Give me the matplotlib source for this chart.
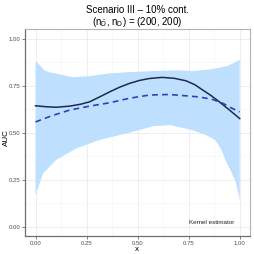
import matplotlib
matplotlib.use("Agg")
import matplotlib.pyplot as plt
import numpy as np

plt.rcParams["font.family"] = ["Liberation Sans", "DejaVu Sans"]
plt.rcParams["mathtext.fontset"] = "custom"
plt.rcParams["mathtext.rm"] = "Liberation Sans"
plt.rcParams["mathtext.it"] = "Liberation Sans:italic"

# values
band_up_x = [0.0, 0.02, 0.045, 0.08, 0.12, 0.18, 0.26, 0.36, 0.46, 0.56, 0.70, 0.77, 0.85, 0.90, 0.94, 0.97, 1.0]
band_up_y = [0.88, 0.86, 0.83, 0.818, 0.81, 0.795, 0.80, 0.815, 0.822, 0.827, 0.832, 0.827, 0.836, 0.845, 0.855, 0.87, 0.889]

band_lo_x = [0.0, 0.037, 0.1, 0.2, 0.31, 0.46, 0.58, 0.66, 0.77, 0.84, 0.88, 0.91, 0.93, 0.955, 0.98, 1.0]
band_lo_y = [0.167, 0.283, 0.354, 0.416, 0.46, 0.50, 0.535, 0.54, 0.513, 0.485, 0.46, 0.41, 0.354, 0.30, 0.24, 0.14]

kernel_x = [0.0, 0.05, 0.1, 0.167, 0.22, 0.265, 0.31, 0.363, 0.41, 0.46, 0.51, 0.557, 0.62, 0.68, 0.737, 0.78, 0.82, 0.86, 0.9, 0.95, 1.0]
kernel_y = [0.643, 0.638, 0.635, 0.641, 0.651, 0.664, 0.688, 0.717, 0.741, 0.762, 0.778, 0.788, 0.794, 0.789, 0.776, 0.755, 0.726, 0.697, 0.664, 0.62, 0.575]

true_x = [0.0, 0.08, 0.167, 0.26, 0.363, 0.46, 0.557, 0.655, 0.737, 0.80, 0.866, 0.92, 0.948, 1.0]
true_y = [0.557, 0.59, 0.62, 0.64, 0.659, 0.683, 0.70, 0.703, 0.696, 0.69, 0.677, 0.655, 0.637, 0.61]

ticks = [0.0, 0.25, 0.5, 0.75, 1.0]
tick_labels = ["0.00", "0.25", "0.50", "0.75", "1.00"]

fig = plt.figure(figsize=(2.54, 2.54), dpi=100)
ax = fig.add_axes([0.0996, 0.0709, 0.8844, 0.8138])

band_x = np.concatenate([band_up_x, band_lo_x[::-1]])
band_y = np.concatenate([band_up_y, band_lo_y[::-1]])
ax.fill(band_x, band_y, color="#bfdfff", lw=0, zorder=2)

ax.plot(kernel_x, kernel_y, color="#1c2b49", lw=1.1, zorder=3)
ax.plot(true_x, true_y, color="#2a44b8", lw=1.2, ls=(0, (3.5, 2.5)), zorder=3)

ax.set_xlim(-0.05, 1.05)
ax.set_ylim(-0.05, 1.05)
ax.set_xticks(ticks)
ax.set_xticklabels(tick_labels)
ax.set_yticks(ticks)
ax.set_yticklabels(tick_labels)
minor = [0.125, 0.375, 0.625, 0.875]
ax.set_xticks(minor, minor=True)
ax.set_yticks(minor, minor=True)
ax.grid(which="major", color="#ebebeb", lw=0.6, zorder=0)
ax.grid(which="minor", color="#f4f4f4", lw=0.4, zorder=0)
ax.set_axisbelow(True)
ax.tick_params(which="major", labelsize=4.3, labelcolor="#4d4d4d", color="#4d4d4d",
               length=2, width=0.5, pad=1.5)
ax.tick_params(which="minor", length=0)
for side in ["top", "right"]:
    ax.spines[side].set_color("#b3b3b3")
    ax.spines[side].set_linewidth(0.8)
for side in ["left", "bottom"]:
    ax.spines[side].set_color("#6e6e6e")
    ax.spines[side].set_linewidth(0.9)

# axis titles placed by hand so they stay inside the small canvas
fig.text(0.54, 0.016, "x", fontsize=5.8, ha="center", va="center")
fig.text(0.024, 0.46, "AUC", fontsize=5.8, ha="center", va="center", rotation=90)

ax.text(0.86, 0.02, "Kernel estimator", fontsize=4.5, color="#222222",
        ha="center", va="center", zorder=4)

fig.text(0.54, 0.962, "Scenario III \u2013 10% cont.", fontsize=7, ha="center", va="center")
fig.text(0.54, 0.915, r"(n$_{\bar{\mathrm{D}}}$, n$_{\mathrm{D}}$) = (200, 200)", fontsize=7,
         ha="center", va="center")

fig.savefig("out.png", dpi=100)
